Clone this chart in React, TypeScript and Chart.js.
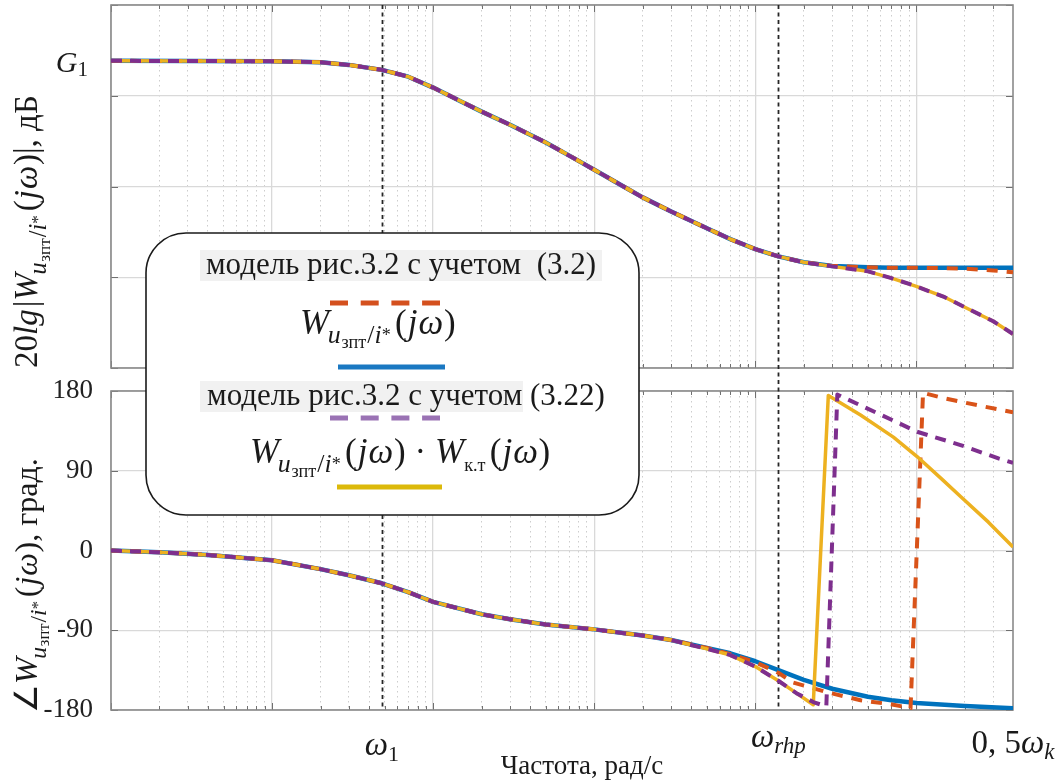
import React, { useEffect, useRef } from "react";
import { Chart, registerables } from "chart.js";

Chart.register(...registerables);

const SERIF = '"Liberation Serif", "Times New Roman", serif';

// Frequency axis, rad/s (logarithmic)
const FREQ_MIN = 1;
const FREQ_MAX = 398000;
const OMEGA_1 = 48;
const OMEGA_RHP = 13900;
const OMEGA_K_HALF = 398000;
const DECADES = [1, 10, 100, 1000, 10000, 100000];
const MINOR_STEPS = [1, 2, 3, 4, 5, 6, 7, 8, 9];

// Magnitude axis, dB
const MAG_MIN = -80;
const MAG_MAX = 0;
const MAG_STEP = 20;
const G1 = -12.3;

const magFreq = [1, 10, 20, 30, 48, 70, 100, 150, 200, 300, 500, 700, 1000, 1500, 2000, 3000, 5000, 7000, 10000, 13900, 20000, 30000, 50000, 70000, 100000, 150000, 200000, 300000, 398000];
const magBlue = [-12.3, -12.4, -12.6, -13.2, -14.3, -15.8, -18.2, -21.3, -23.5, -26.4, -30.3, -33.2, -36.3, -39.9, -42.4, -45.5, -49.2, -51.6, -53.8, -55.4, -56.7, -57.5, -57.8, -57.9, -57.9, -57.9, -57.9, -57.9, -57.9];
const magOrange = [-12.3, -12.4, -12.6, -13.2, -14.3, -15.8, -18.2, -21.3, -23.5, -26.4, -30.3, -33.2, -36.3, -39.9, -42.4, -45.5, -49.2, -51.6, -53.8, -55.4, -56.7, -57.5, -57.8, -57.9, -57.9, -58.0, -58.1, -58.5, -58.9];
const magPurple = [-12.3, -12.4, -12.6, -13.2, -14.3, -15.8, -18.2, -21.3, -23.5, -26.4, -30.3, -33.2, -36.3, -39.9, -42.4, -45.5, -49.2, -51.6, -53.8, -55.4, -56.7, -57.6, -58.7, -60.2, -62.0, -64.4, -66.6, -69.7, -72.5];
const magYellow = [-12.3, -12.4, -12.6, -13.2, -14.3, -15.8, -18.2, -21.3, -23.5, -26.4, -30.3, -33.2, -36.3, -39.9, -42.4, -45.5, -49.2, -51.6, -53.8, -55.4, -56.7, -57.6, -58.7, -60.2, -62.0, -64.4, -66.6, -69.7, -72.5];

// Phase axis, degrees
const PH_MIN = -180;
const PH_MAX = 180;
const PH_STEP = 90;

const phBlueFreq = [1, 2, 4, 10, 20, 30, 48, 70, 100, 200, 300, 500, 1000, 2000, 3000, 5000, 7000, 10000, 13900, 20000, 30000, 50000, 70000, 100000, 200000, 398000];
const phBlue = [0, -2, -5, -11, -21, -28, -37, -47, -58, -72, -77.5, -83.5, -89, -96, -101, -110, -116, -125, -135, -146, -156, -165, -169, -172, -175.5, -178];

const phOrangeFreq = [1, 2, 4, 10, 20, 30, 48, 70, 100, 200, 300, 500, 1000, 2000, 3000, 5000, 7000, 10000, 13900, 17200, 28000, 45000, 72000, 92000, 110000, 147000, 239000, 398000];
const phOrange = [0, -2, -5, -11, -21, -28, -37, -47, -58, -72, -77.5, -83.5, -89, -96, -101, -110, -117, -126, -138, -149, -160, -169, -174, -178, 178, 172, 164, 156];

const phPurpleFreq = [1, 2, 4, 10, 20, 30, 48, 70, 100, 200, 300, 500, 1000, 2000, 3000, 5000, 7000, 10000, 13900, 18000, 22900, 27600, 32300, 57300, 101000, 188000, 323000, 398000];
const phPurple = [0, -2, -5, -11, -21, -28, -37, -47, -58, -72, -77.5, -83.5, -89, -96, -101, -111, -118, -131, -147, -161, -171, -176, 176, 155, 134, 119, 104, 99];

const phYellowFreq = [1, 2, 4, 10, 20, 30, 48, 70, 100, 200, 300, 500, 1000, 2000, 3000, 5000, 7000, 10000, 13900, 18000, 22900, 28400, 45000, 72000, 101000, 145000, 188000, 280000, 398000];
const phYellow = [0, -2, -5, -11, -21, -28, -37, -47, -58, -72, -77.5, -83.5, -89, -96, -101, -111, -118, -131, -147, -161, -174, 175, 153, 128, 106, 80, 61, 32, 4];

const legendCaptions = ["модель рис.3.2 с учетом  (3.2)", "модель рис.3.2 с учетом (3.22)"];
const xAxisTitle = "Частота, рад/с";

const COLORS = {
  blue: "#0072BD",
  orange: "#D95319",
  yellow: "#EDB120",
  purple: "#7E2F8E",
};
const LEGEND_COLORS = {
  blue: "#1a78c2",
  orange: "#d4501e",
  yellow: "#dcb90a",
  purple: "#9a72b4",
};

const GRID_MAJOR = "#d9d9d9";
const GRID_MINOR = "#cdcdcd";
const FRAME = "#8a8a8a";

const isDecade = (v: number) => Math.abs(Math.log10(v) - Math.round(Math.log10(v))) < 1e-9;

const pts = (xs: number[], ys: number[]) => xs.map((x, i) => ({ x, y: ys[i] }));

type Run = { t: string; size: number; italic?: boolean; dy?: number };

function drawRuns(ctx: CanvasRenderingContext2D, runs: Run[], x: number, y: number, align: "left" | "center" | "right") {
  const font = (r: Run) => `${r.italic ? "italic " : ""}${r.size}px ${SERIF}`;
  let w = 0;
  for (const r of runs) {
    ctx.font = font(r);
    w += ctx.measureText(r.t).width;
  }
  let cx = align === "center" ? x - w / 2 : align === "right" ? x - w : x;
  ctx.textAlign = "left";
  ctx.textBaseline = "alphabetic";
  for (const r of runs) {
    ctx.font = font(r);
    ctx.fillText(r.t, cx, y + (r.dy || 0));
    cx += ctx.measureText(r.t).width;
  }
}

// Box frame with MATLAB-style inward tick marks
const framePlugin = {
  id: "frameBox",
  beforeDatasetsDraw(chart: any) {
    const { ctx, chartArea: a, scales } = chart;
    ctx.save();
    ctx.strokeStyle = "#707070";
    ctx.lineWidth = 1;
    for (const t of scales.x.ticks) {
      const px = Math.round(scales.x.getPixelForValue(t.value)) + 0.5;
      const len = isDecade(t.value) ? 7 : 4;
      ctx.beginPath();
      ctx.moveTo(px, a.bottom);
      ctx.lineTo(px, a.bottom - len);
      ctx.moveTo(px, a.top);
      ctx.lineTo(px, a.top + len);
      ctx.stroke();
    }
    for (const t of scales.y.ticks) {
      const py = Math.round(scales.y.getPixelForValue(t.value)) + 0.5;
      ctx.beginPath();
      ctx.moveTo(a.left, py);
      ctx.lineTo(a.left + 7, py);
      ctx.moveTo(a.right, py);
      ctx.lineTo(a.right - 7, py);
      ctx.stroke();
    }
    ctx.strokeStyle = FRAME;
    ctx.lineWidth = 1.6;
    ctx.strokeRect(a.left, a.top, a.right - a.left, a.bottom - a.top);
    ctx.restore();
  },
};

// Dashed vertical lines at the characteristic frequencies
const omegaMarkers = [OMEGA_1, OMEGA_RHP];
const markerPlugin = (extendTop: number, extendBottom: number) => ({
  id: "omegaMarkers",
  beforeDatasetsDraw(chart: any) {
    const { ctx, chartArea: a, scales } = chart;
    ctx.save();
    ctx.strokeStyle = "#262626";
    ctx.lineWidth = 1.8;
    ctx.setLineDash([4, 3.5]);
    for (const w of omegaMarkers) {
      const px = Math.round(scales.x.getPixelForValue(w)) + 0.5;
      ctx.beginPath();
      ctx.moveTo(px, a.top - extendTop);
      ctx.lineTo(px, a.bottom + extendBottom);
      ctx.stroke();
    }
    ctx.restore();
  },
});

const g1Plugin = {
  id: "g1Label",
  afterDraw(chart: any) {
    const { ctx, scales } = chart;
    const py = scales.y.getPixelForValue(G1);
    ctx.save();
    ctx.fillStyle = "#1a1a1a";
    drawRuns(ctx, [{ t: "G", size: 30, italic: true }, { t: "1", size: 21, dy: 4 }], 88, py + 11, "right");
    ctx.restore();
  },
};

const freqLabelsPlugin = {
  id: "freqLabels",
  afterDraw(chart: any) {
    const { ctx, scales } = chart;
    const x = scales.x;
    ctx.save();
    ctx.fillStyle = "#1a1a1a";
    drawRuns(ctx, [{ t: "ω", size: 33, italic: true }, { t: "1", size: 22, dy: 6 }], x.getPixelForValue(OMEGA_1), 375, "center");
    drawRuns(ctx, [{ t: "ω", size: 33, italic: true }, { t: "rhp", size: 23, italic: true, dy: 6 }], x.getPixelForValue(OMEGA_RHP), 367, "center");
    drawRuns(ctx, [{ t: "0, 5", size: 33 }, { t: "ω", size: 33, italic: true }, { t: "k", size: 23, italic: true, dy: 6 }], x.getPixelForValue(OMEGA_K_HALF), 373, "center");
    drawRuns(ctx, [{ t: xAxisTitle, size: 27 }], 582, 394, "center");
    ctx.restore();
  },
};

// fixes the axis box size so the plot area lands exactly where the layout padding puts it
const fixBox = (width: number | null, height: number | null) => (s: any) => {
  if (width !== null) s.width = width;
  if (height !== null) s.height = height;
  s.paddingTop = 0;
  s.paddingBottom = 0;
  s.paddingLeft = 0;
  s.paddingRight = 0;
};

function freqScale(height: number) {
  return {
    type: "logarithmic",
    min: FREQ_MIN,
    max: FREQ_MAX,
    afterBuildTicks: (scale: any) => {
      const ticks: { value: number }[] = [];
      for (const d of DECADES) for (const m of MINOR_STEPS) {
        const v = d * m;
        if (v >= FREQ_MIN && v <= FREQ_MAX) ticks.push({ value: v });
      }
      scale.ticks = ticks;
    },
    afterFit: fixBox(null, height),
    ticks: { display: false, autoSkip: false },
    grid: {
      drawTicks: false,
      color: (c: any) => (c.tick && isDecade(c.tick.value) ? GRID_MAJOR : GRID_MINOR),
      lineWidth: (c: any) => (c.tick && isDecade(c.tick.value) ? 1.3 : 1),
    },
    border: {
      display: false,
      dash: (c: any) => (c.tick && isDecade(c.tick.value) ? [] : [1.5, 3.5]),
    },
  };
}

function lineDataset(label: string, data: { x: number; y: number }[], color: string, width: number, dash: number[], order: number) {
  return {
    label,
    data,
    borderColor: color,
    backgroundColor: color,
    borderWidth: width,
    borderDash: dash,
    pointRadius: 0,
    tension: 0,
    fill: false,
    order,
    borderCapStyle: "butt",
    borderJoinStyle: "round",
  };
}

function WUzpt(size: number, key: string) {
  const s1 = size * 0.74;
  const s2 = size * 0.52;
  const d1 = size * 0.27;
  const d2 = size * 0.12;
  const up = size * 0.08;
  return [
    <tspan key={key + "W"} fontStyle="italic">W</tspan>,
    <tspan key={key + "u"} fontStyle="italic" fontSize={s1} dy={d1} dx={-size * 0.04}>u</tspan>,
    <tspan key={key + "z"} fontSize={s2} dy={d2} dx={size * 0.02}>зпт</tspan>,
    <tspan key={key + "s"} fontSize={s1} dy={-d2} dx={size * 0.03}>/</tspan>,
    <tspan key={key + "i"} fontStyle="italic" fontSize={s1}>i</tspan>,
    <tspan key={key + "a"} fontSize={s2} dy={-up}>*</tspan>,
    <tspan key={key + "o"} dy={up - d1} dx={size * 0.12}>(</tspan>,
    <tspan key={key + "j"} fontStyle="italic" dx={size * 0.03}>j</tspan>,
    <tspan key={key + "w"} fontStyle="italic" dx={size * 0.03}>ω</tspan>,
    <tspan key={key + "c"} dx={size * 0.02}>)</tspan>,
  ];
}

function WKt(size: number, key: string) {
  const s2 = size * 0.52;
  const d = size * 0.24;
  return [
    <tspan key={key + "W"} fontStyle="italic" dx={size * 0.25}>W</tspan>,
    <tspan key={key + "k"} fontSize={s2} dy={d}>к.т</tspan>,
    <tspan key={key + "o"} dy={-d} dx={size * 0.12}>(</tspan>,
    <tspan key={key + "j"} fontStyle="italic" dx={size * 0.03}>j</tspan>,
    <tspan key={key + "w"} fontStyle="italic" dx={size * 0.03}>ω</tspan>,
    <tspan key={key + "c"} dx={size * 0.02}>)</tspan>,
  ];
}

export default function App() {
  const topRef = useRef<HTMLCanvasElement | null>(null);
  const botRef = useRef<HTMLCanvasElement | null>(null);

  useEffect(() => {
    if (!topRef.current || !botRef.current) return;

    const magChart = new Chart(topRef.current, {
      type: "line",
      data: {
        datasets: [
          lineDataset("W_uzpt/i*(jω)", pts(magFreq, magBlue), COLORS.blue, 4.5, [], 3),
          lineDataset("модель (3.2)", pts(magFreq, magOrange), COLORS.orange, 4, [11, 9], 2),
          lineDataset("W·W_кт(jω)", pts(magFreq, magYellow), COLORS.yellow, 3.5, [], 1),
          lineDataset("модель (3.22)", pts(magFreq, magPurple), COLORS.purple, 4, [11, 8], 0),
        ],
      } as any,
      options: {
        responsive: false,
        maintainAspectRatio: false,
        animation: false,
        events: [],
        layout: { padding: { top: 5, right: 51, left: 0, bottom: 0 } },
        plugins: { legend: { display: false }, tooltip: { enabled: false }, title: { display: false } },
        scales: {
          x: freqScale(12) as any,
          y: {
            min: MAG_MIN,
            max: MAG_MAX,
            ticks: { stepSize: MAG_STEP, display: false },
            afterFit: fixBox(111, null),
            grid: { drawTicks: false, color: GRID_MAJOR, lineWidth: 1.3 },
            border: { display: false },
          },
        },
      },
      plugins: [framePlugin, markerPlugin(0, 12), g1Plugin],
    } as any);

    const phaseChart = new Chart(botRef.current, {
      type: "line",
      data: {
        datasets: [
          lineDataset("W_uzpt/i*(jω)", pts(phBlueFreq, phBlue), COLORS.blue, 4.5, [], 3),
          lineDataset("модель (3.2)", pts(phOrangeFreq, phOrange), COLORS.orange, 4, [11, 9], 2),
          lineDataset("W·W_кт(jω)", pts(phYellowFreq, phYellow), COLORS.yellow, 3.5, [], 1),
          lineDataset("модель (3.22)", pts(phPurpleFreq, phPurple), COLORS.purple, 4, [11, 8], 0),
        ],
      } as any,
      options: {
        responsive: false,
        maintainAspectRatio: false,
        animation: false,
        events: [],
        layout: { padding: { top: 11, right: 51, left: 0, bottom: 0 } },
        plugins: { legend: { display: false }, tooltip: { enabled: false }, title: { display: false } },
        scales: {
          x: freqScale(70) as any,
          y: {
            min: PH_MIN,
            max: PH_MAX,
            ticks: {
              stepSize: PH_STEP,
              padding: 18,
              color: "#222",
              font: { family: SERIF, size: 27 },
              callback: (v: any) => String(v),
            },
            afterFit: fixBox(111, null),
            grid: { drawTicks: false, color: GRID_MAJOR, lineWidth: 1.3 },
            border: { display: false },
          },
        },
      },
      plugins: [framePlugin, markerPlugin(11, 0), freqLabelsPlugin],
    } as any);

    return () => {
      magChart.destroy();
      phaseChart.destroy();
    };
  }, []);

  return (
    <div style={{ position: "fixed", left: 0, top: 0, width: 1064, height: 780, background: "#fff", overflow: "hidden" }}>
      <canvas ref={topRef} width={1064} height={380} style={{ position: "absolute", left: 0, top: 0 }} />
      <canvas ref={botRef} width={1064} height={400} style={{ position: "absolute", left: 0, top: 380 }} />
      <svg width={1064} height={780} style={{ position: "absolute", left: 0, top: 0 }} fontFamily={SERIF} fill="#1a1a1a">
        {/* axis titles */}
        <text transform="translate(37,368) rotate(-90)" fontSize={33}>
          <tspan>20</tspan>
          <tspan fontStyle="italic">lg</tspan>
          <tspan dx={2}>|</tspan>
          {WUzpt(33, "t")}
          <tspan>|, дБ</tspan>
        </text>
        <text transform="translate(37,713) rotate(-90)" fontSize={32}>
          <tspan>∠</tspan>
          {WUzpt(32, "b")}
          <tspan>, град.</tspan>
        </text>

        {/* legend */}
        <rect x={146} y={233} width={493} height={282} rx={40} ry={40} fill="#fff" stroke="#1a1a1a" strokeWidth={1.6} />
        <rect x={200} y={250} width={402} height={31} fill="#f1f1f1" />
        <rect x={200} y={381} width={323} height={31} fill="#f1f1f1" />
        <text x={401} y={274} textAnchor="middle" fontSize={31} style={{ whiteSpace: "pre" }}>{legendCaptions[0]}</text>
        <line x1={330} y1={303} x2={440} y2={303} stroke={LEGEND_COLORS.orange} strokeWidth={5} strokeDasharray="18 12.7" />
        <text x={300} y={334} fontSize={35}>{WUzpt(35, "l1")}</text>
        <line x1={338} y1={367} x2={445} y2={367} stroke={LEGEND_COLORS.blue} strokeWidth={5} />
        <text x={406} y={405} textAnchor="middle" fontSize={31} style={{ whiteSpace: "pre" }}>{legendCaptions[1]}</text>
        <line x1={330} y1={418} x2={440} y2={418} stroke={LEGEND_COLORS.purple} strokeWidth={5} strokeDasharray="18 12.7" />
        <text x={250} y={463} fontSize={35}>
          {WUzpt(35, "l2")}
          <tspan dx={9}>·</tspan>
          {WKt(35, "l3")}
        </text>
        <line x1={337} y1={487} x2={442} y2={487} stroke={LEGEND_COLORS.yellow} strokeWidth={5} />
      </svg>
    </div>
  );
}
